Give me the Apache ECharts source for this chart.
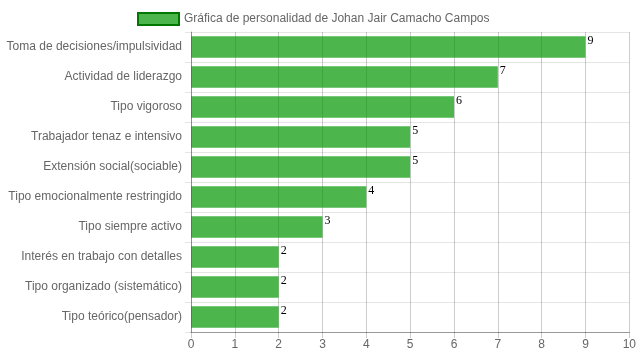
<!DOCTYPE html>
<html><head><meta charset="utf-8">
<script src="https://cdn.jsdelivr.net/npm/echarts@6/dist/echarts.min.js"></script>
<style>html,body{margin:0;padding:0;background:#fff}#c{width:639px;height:360px}</style>
</head><body><div id="c"></div>
<script>
const categories = [
  "Toma de decisiones/impulsividad",
  "Actividad de liderazgo",
  "Tipo vigoroso",
  "Trabajador tenaz e intensivo",
  "Extensión social(sociable)",
  "Tipo emocionalmente restringido",
  "Tipo siempre activo",
  "Interés en trabajo con detalles",
  "Tipo organizado (sistemático)",
  "Tipo teórico(pensador)"
];
const values = [9, 7, 6, 5, 5, 4, 3, 2, 2, 2];
const seriesName = "Gráfica de personalidad de Johan Jair Camacho Campos";
const xTicks = [0,1,2,3,4,5,6,7,8,9,10];

const chart = echarts.init(document.getElementById('c'), null, {renderer:'canvas'});
chart.setOption({
  animation: false,
  textStyle: {fontFamily: 'Liberation Sans, Arial, sans-serif'},
  legend: {
    left: 132, top: 7,
    itemWidth: 41, itemHeight: 12, itemGap: 5,
    textStyle: {color: '#666', fontSize: 12, fontFamily: 'Liberation Sans, Arial, sans-serif'},
    data: [{name: seriesName, icon: 'rect', itemStyle: {color: 'rgba(0,150,0,0.7)', borderColor: '#007700', borderWidth: 2}}]
  },
  grid: {left: 191, right: 9, top: 32, bottom: 28, containLabel: false},
  xAxis: {
    type: 'value', min: xTicks[0], max: xTicks[xTicks.length-1], interval: 1,
    axisLine: {show: true, lineStyle: {color: '#999'}},
    axisTick: {show: true, length: 6, lineStyle: {color: 'rgba(0,0,0,0.2)'}},
    axisLabel: {color: '#666', fontSize: 12, margin: 7},
    splitLine: {show: true, lineStyle: {color: 'rgba(0,0,0,0.2)'}}
  },
  yAxis: {
    type: 'category', data: categories, inverse: true,
    axisLine: {show: true, lineStyle: {color: 'rgba(0,0,0,0.3)'}},
    axisTick: {show: true, length: 6, lineStyle: {color: 'rgba(0,0,0,0.1)'}},
    axisLabel: {color: '#666', fontSize: 12, margin: 9},
    splitLine: {show: true, lineStyle: {color: 'rgba(0,0,0,0.1)'}}
  },
  series: [{
    name: seriesName, type: 'bar', data: values,
    barCategoryGap: '28%',
    itemStyle: {color: 'rgba(0,150,0,0.7)'},
    label: {
      show: true, position: ['100%', 0], align: 'left', verticalAlign: 'top',
      offset: [2, -1],
      color: '#000', fontSize: 12, fontFamily: 'Liberation Serif, Times New Roman, serif'
    }
  }]
});
</script></body></html>
